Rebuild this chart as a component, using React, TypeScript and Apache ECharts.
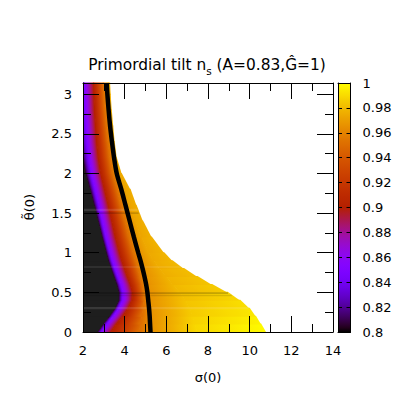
import React, { useEffect, useRef } from 'react';
import * as echarts from 'echarts';

const thetaRows = [0, 0.1, 0.2, 0.3, 0.4, 0.5, 0.6, 0.7, 0.8, 0.9, 1.0, 1.2, 1.4, 1.6, 1.8, 2.0, 2.2, 2.4, 2.6, 2.8, 3.0, 3.1416];
// sigma(0) at which n_s reaches the given value on each row
const sigmaNs080 = [2.68, 2.95, 3.25, 3.52, 3.7, 3.7, 3.6, 3.46, 3.33, 3.2, 3.1, 2.9, 2.71, 2.52, 2.32, 2.1, 1.95, 1.85, 1.8, 1.75, 1.72, 1.7];
const sigmaNs085 = [2.88, 3.15, 3.45, 3.72, 3.9, 3.92, 3.82, 3.68, 3.54, 3.41, 3.3, 3.1, 2.93, 2.76, 2.58, 2.4, 2.28, 2.2, 2.15, 2.1, 2.07, 2.05];
const sigmaNs090 = [3.33, 3.6, 3.9, 4.17, 4.35, 4.37, 4.27, 4.12, 3.99, 3.86, 3.75, 3.55, 3.38, 3.21, 3.03, 2.85, 2.73, 2.65, 2.6, 2.55, 2.52, 2.5];
const sigmaNs095 = [4.67, 4.73, 4.81, 4.87, 4.9, 4.87, 4.8, 4.7, 4.6, 4.49, 4.38, 4.17, 3.98, 3.79, 3.6, 3.39, 3.26, 3.17, 3.09, 3.03, 2.98, 2.95];
// contour n_s = 0.965
const sigmaContour = [5.24, 5.22, 5.2, 5.17, 5.13, 5.09, 5.03, 4.95, 4.86, 4.76, 4.65, 4.44, 4.24, 4.04, 3.84, 3.62, 3.49, 3.39, 3.3, 3.23, 3.17, 3.14];
// outer edge of the allowed region and n_s there
const sigmaEdge = [10.8, 10.55, 10.3, 10.0, 9.55, 8.95, 8.2, 7.5, 6.85, 6.3, 5.9, 5.3, 4.88, 4.57, 4.28, 3.86, 3.62, 3.52, 3.45, 3.38, 3.33, 3.3];
const nsEdge = [1.0, 0.998, 0.995, 0.992, 0.99, 0.987, 0.984, 0.982, 0.98, 0.979, 0.978, 0.977, 0.976, 0.976, 0.976, 0.976, 0.976, 0.976, 0.976, 0.977, 0.977, 0.977];

// faint horizontal grid artefacts visible in the map
const stripeTheta = [1.54, 1.5, 0.82, 0.49, 0.46, 0.3];
const stripeShade = ['light', 'dark', 'light', 'dark', 'dark', 'light'];
const stripeAlpha = [0.12, 0.16, 0.08, 0.2, 0.12, 0.12];

const contourLevel = 0.965;
const cbMin = 0.8;
const cbMax = 1.0;

const FONT = 'DejaVu Sans';
const DARK = '#1e1e1e';

function palPure(v: number): string {
  const x = Math.min(1, Math.max(0, (v - cbMin) / (cbMax - cbMin)));
  const r = Math.sqrt(x);
  const g = x * x * x;
  const b = Math.max(0, Math.sin(2 * Math.PI * x));
  return `rgb(${Math.round(r * 255)},${Math.round(g * 255)},${Math.round(b * 255)})`;
}
function pal(v: number): string {
  if (v <= cbMin) return DARK;
  return palPure(v);
}

function stopsAt(i: number) {
  const C = sigmaContour[i];
  const B = sigmaEdge[i];
  const sig = [sigmaNs080[i], sigmaNs085[i], sigmaNs090[i], sigmaNs095[i], C, C + 0.4 * (B - C), B];
  const ns = [0.8, 0.85, 0.9, 0.95, contourLevel, contourLevel + 0.7 * (nsEdge[i] - contourLevel), nsEdge[i]];
  return { sig, ns };
}

function edgeAt(theta: number): number {
  for (let i = 0; i < thetaRows.length - 1; i++) {
    if (theta >= thetaRows[i] && theta <= thetaRows[i + 1]) {
      const f = (theta - thetaRows[i]) / (thetaRows[i + 1] - thetaRows[i]);
      return sigmaEdge[i] + f * (sigmaEdge[i + 1] - sigmaEdge[i]);
    }
  }
  return sigmaEdge[sigmaEdge.length - 1];
}

const bandItems: number[][] = [];
for (let i = 0; i < thetaRows.length - 1; i++) {
  for (let k = -1; k <= 5; k++) bandItems.push([i, k]);
}

function buildOption() {
  const axisLineStyle = { color: '#000', width: 1 };
  const tickStyle = { color: '#000', width: 1 };
  const labelStyle = { color: '#000', fontSize: 13, fontFamily: FONT };

  const mainX = (pos: 'bottom' | 'top', labels: boolean) => ({
    type: 'value', gridIndex: 0, position: pos, min: 2, max: 14, interval: 2, z: 10,
    axisLine: { show: true, onZero: false, lineStyle: axisLineStyle },
    axisTick: { show: true, inside: true, length: 16, lineStyle: tickStyle },
    minorTick: { show: true, splitNumber: 2, length: 8, lineStyle: tickStyle },
    axisLabel: { show: labels, margin: 12, ...labelStyle },
    splitLine: { show: false },
  });
  const mainY = (pos: 'left' | 'right', interval: number, len: number, labels: boolean, line: boolean) => ({
    type: 'value', gridIndex: 0, position: pos, min: 0, max: Math.PI, interval, z: 10,
    axisLine: { show: line, onZero: false, lineStyle: axisLineStyle },
    axisTick: { show: true, inside: true, length: len, lineStyle: tickStyle },
    axisLabel: { show: labels, margin: 11, showMaxLabel: false, ...labelStyle },
    splitLine: { show: false },
  });
  const cbX = (pos: 'bottom' | 'top') => ({
    type: 'value', gridIndex: 1, position: pos, min: 0, max: 1, z: 10,
    axisLine: { show: true, onZero: false, lineStyle: axisLineStyle },
    axisTick: { show: false }, axisLabel: { show: false }, splitLine: { show: false },
  });
  const cbY = (pos: 'left' | 'right', labels: boolean) => ({
    type: 'value', gridIndex: 1, position: pos, min: cbMin, max: cbMax, interval: 0.02, z: 10,
    axisLine: { show: true, onZero: false, lineStyle: axisLineStyle },
    axisTick: { show: true, inside: true, length: 4, lineStyle: tickStyle },
    axisLabel: { show: labels, margin: 12, ...labelStyle },
    splitLine: { show: false },
  });

  return {
    animation: false,
    backgroundColor: '#fff',
    title: {
      text: '{a|Primordial tilt n}{s|s}{a| (A=0.83,Ĝ=1)}',
      left: 'center',
      top: 49,
      textStyle: {
        fontWeight: 'normal',
        rich: {
          a: { fontSize: 15.4, fontFamily: FONT, fontWeight: 'normal', color: '#000', lineHeight: 22, verticalAlign: 'middle' },
          s: { fontSize: 10.5, fontFamily: FONT, fontWeight: 'normal', color: '#000', lineHeight: 11, verticalAlign: 'bottom' },
        },
      },
    },
    grid: [
      { left: 83, top: 83, width: 250, height: 249, show: false },
      { left: 338, top: 83, width: 12.5, height: 249, show: false },
    ],
    xAxis: [mainX('bottom', true), mainX('top', false), cbX('bottom'), cbX('top')],
    yAxis: [
      mainY('left', 0.5, 16, true, true),
      mainY('left', 0.25, 8, false, false),
      mainY('right', 0.5, 16, false, true),
      mainY('right', 0.25, 8, false, false),
      cbY('right', true),
      cbY('left', false),
    ],
    graphic: [
      {
        type: 'text', x: 208, y: 377,
        style: { text: 'σ(0)', font: `13px "${FONT}"`, fill: '#000', textAlign: 'center', textVerticalAlign: 'middle', align: 'center', verticalAlign: 'middle' },
      },
      {
        type: 'text', x: 29, y: 207, rotation: Math.PI / 2,
        style: { text: 'θ̃(0)', font: `13px "${FONT}"`, fill: '#000', textAlign: 'center', textVerticalAlign: 'middle', align: 'center', verticalAlign: 'middle' },
      },
    ],
    series: [
      {
        type: 'custom',
        xAxisIndex: 0,
        yAxisIndex: 0,
        z: 2,
        silent: true,
        data: bandItems,
        renderItem: (params: any, api: any) => {
          const i = api.value(0);
          const k = api.value(1);
          const a = stopsAt(i);
          const b = stopsAt(i + 1);
          const t0 = thetaRows[i];
          const t1 = thetaRows[i + 1];
          const lo0 = k < 0 ? 2 : a.sig[k];
          const lo1 = k < 0 ? 2 : b.sig[k];
          const hi0 = a.sig[k + 1];
          const hi1 = b.sig[k + 1];
          const cl = (s: number) => Math.max(2, s);
          const pLo0 = api.coord([cl(lo0), t0]);
          const pHi0 = api.coord([cl(hi0), t0]);
          const pHi1 = api.coord([cl(hi1), t1]);
          const pLo1 = api.coord([cl(lo1), t1]);
          const ext = k < 5 ? 0.7 : 0;
          const yb = pLo0[1] + 0.5;
          const yt = pLo1[1] - 0.5;
          const points = [
            [pLo0[0], yb],
            [Math.max(pLo0[0], pHi0[0] + ext), yb],
            [Math.max(pLo1[0], pHi1[0] + ext), yt],
            [pLo1[0], yt],
          ];
          let fill: any = DARK;
          if (k >= 0) {
            const L0 = api.coord([lo0, t0]);
            const L1 = api.coord([lo1, t1]);
            const H0 = api.coord([hi0, t0]);
            const H1 = api.coord([hi1, t1]);
            const Lm = [(L0[0] + L1[0]) / 2, (L0[1] + L1[1]) / 2];
            const Hm = [(H0[0] + H1[0]) / 2, (H0[1] + H1[1]) / 2];
            let dx = (L1[0] - L0[0]) + (H1[0] - H0[0]);
            let dy = (L1[1] - L0[1]) + (H1[1] - H0[1]);
            const dl = Math.hypot(dx, dy) || 1;
            dx /= dl; dy /= dl;
            let nx = -dy, ny = dx;
            if (nx < 0) { nx = -nx; ny = -ny; }
            const len = (Hm[0] - Lm[0]) * nx + (Hm[1] - Lm[1]) * ny;
            const v0 = (a.ns[k] + b.ns[k]) / 2;
            const v1 = (a.ns[k + 1] + b.ns[k + 1]) / 2;
            if (len < 0.5) {
              fill = pal((v0 + v1) / 2);
            } else {
              const colorStops = [] as any[];
              const n = 8;
              for (let j = 0; j <= n; j++) {
                const t = j / n;
                colorStops.push({ offset: t, color: pal(v0 + (v1 - v0) * t) });
              }
              fill = {
                type: 'linear', x: Lm[0], y: Lm[1], x2: Lm[0] + nx * len, y2: Lm[1] + ny * len,
                colorStops, global: true,
              };
            }
          }
          return { type: 'polygon', shape: { points }, style: { fill } };
        },
      },
      {
        type: 'custom',
        xAxisIndex: 0,
        yAxisIndex: 0,
        z: 3,
        silent: true,
        data: stripeTheta.map((t, i) => [t, i]),
        renderItem: (params: any, api: any) => {
          const t = api.value(0);
          const idx = api.value(1);
          const p0 = api.coord([2, t]);
          const p1 = api.coord([edgeAt(t) - 0.05, t]);
          const dark = stripeShade[idx] === 'dark';
          const h = dark ? 1.6 : 2.2;
          return {
            type: 'rect',
            shape: { x: p0[0], y: p0[1] - h / 2, width: p1[0] - p0[0], height: h },
            style: { fill: dark ? `rgba(0,0,0,${stripeAlpha[idx]})` : `rgba(255,255,255,${stripeAlpha[idx]})` },
          };
        },
      },
      {
        type: 'line',
        xAxisIndex: 0,
        yAxisIndex: 0,
        z: 4,
        silent: true,
        data: thetaRows.map((t, i) => [sigmaContour[i], t]),
        smooth: 0.3,
        symbol: 'none',
        lineStyle: { color: '#000', width: 4.5 },
      },
      {
        type: 'custom',
        xAxisIndex: 2,
        yAxisIndex: 4,
        z: 2,
        silent: true,
        data: [[0.5, 0.9]],
        renderItem: (params: any, api: any) => {
          const p0 = api.coord([0, cbMax]);
          const p1 = api.coord([1, cbMin]);
          const colorStops = [] as any[];
          const n = 60;
          for (let j = 0; j <= n; j++) {
            const t = j / n;
            colorStops.push({ offset: t, color: palPure(cbMax - (cbMax - cbMin) * t) });
          }
          return {
            type: 'rect',
            shape: { x: p0[0], y: p0[1], width: p1[0] - p0[0], height: p1[1] - p0[1] },
            style: { fill: { type: 'linear', x: 0, y: 0, x2: 0, y2: 1, colorStops } },
          };
        },
      },
    ],
  };
}

export default function App() {
  const ref = useRef<HTMLDivElement>(null);
  useEffect(() => {
    if (!ref.current) return;
    const chart = echarts.init(ref.current, null, { renderer: 'svg' });
    chart.setOption(buildOption() as any);
    return () => chart.dispose();
  }, []);
  return <div ref={ref} style={{ position: 'absolute', left: 0, top: 0, width: 414, height: 414 }} />;
}
